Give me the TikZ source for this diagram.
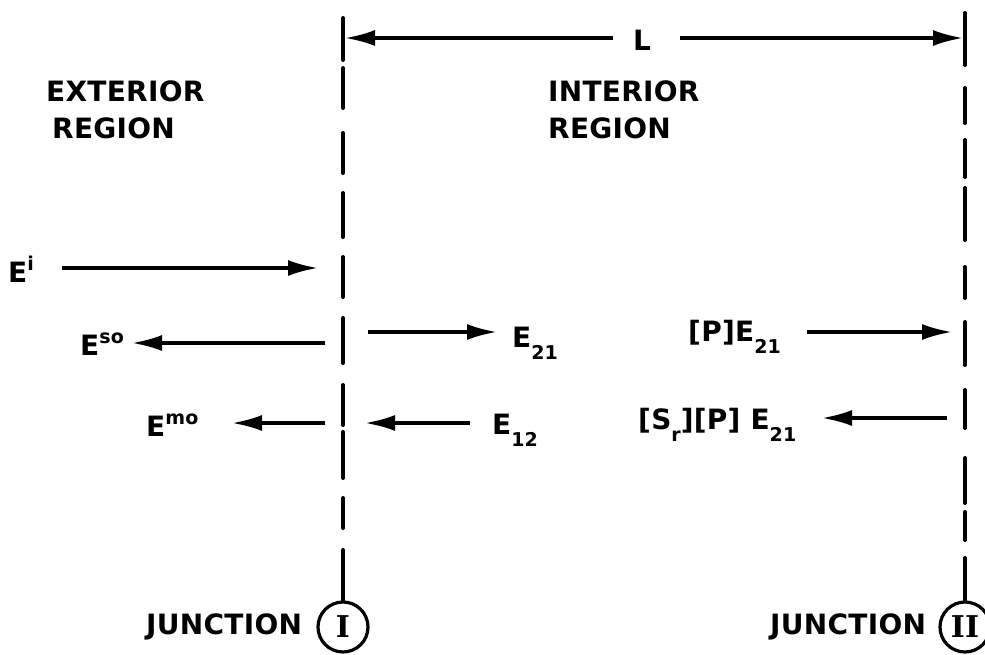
\documentclass[tikz,border=0pt]{standalone}
\usepackage{fontspec}
\usetikzlibrary{arrows.meta}
\newfontfamily\lab[LetterSpace=1]{DejaVu Sans}
\newfontfamily\romfont{DejaVu Serif}
\newcommand\labsz{\fontsize{28}{28}\selectfont}
\newcommand\upx[1]{\raisebox{0.42em}{\fontsize{19}{19}\selectfont #1}}
\newcommand\dnx[1]{\raisebox{-0.45em}{\fontsize{19}{19}\selectfont #1}}
\tikzset{
  lbl/.style={font=\lab\bfseries\labsz, inner sep=0pt, anchor=base west},
  arr/.style={line width=3.2pt, -{Latex[length=30pt,width=16pt]}},
  dsh/.style={line width=4pt, line cap=round},
  junc/.style={circle, draw, line width=3.2pt, minimum size=50pt, inner sep=0pt,
    font=\romfont\bfseries\fontsize{30}{30}\selectfont},
}
\begin{document}
\begin{tikzpicture}[x=1pt,y=-1pt]
\useasboundingbox (0,0) rectangle (985,654);
% junction circles
\node[junc] (c1) at (343,627) {I};
\node[junc] (c2) at (965,627) {II};
% dashed boundaries
\foreach \a/\b in {18/60,68/108,133/173,193/237,257/297,318/363,385/425,432/478,498/528}
  \draw[dsh] (343,\a) -- (343,\b);
\coordinate (l1) at (343,550);
\draw[dsh] (l1) -- (c1.north);
\foreach \a/\b in {13/65,88/123,140/177,188/240,267/298,322/365,390/428,458/503,512/540}
  \draw[dsh] (965,\a) -- (965,\b);
\coordinate (r1) at (965,558);
\draw[dsh] (r1) -- (c2.north);
% dimension L
\node[lbl, anchor=base] (L) at (642,50) {L};
\coordinate (dl) at (345,38);
\coordinate (dr) at (963,38);
\coordinate (la) at (613,38);
\coordinate (lb) at (680,38);
\draw[arr] (la) -- (dl);
\draw[arr] (lb) -- (dr);
% region labels
\node[lbl] (ext1) at (46,101) {EXTERIOR};
\node[lbl] (ext2) at (52,138) {REGION};
\node[lbl] (int1) at (548,101) {INTERIOR};
\node[lbl] (int2) at (548,138) {REGION};
% exterior fields
\node[lbl] (ei) at (8,282) {E\upx{i}};
\coordinate (ei1) at (62,268);
\coordinate (ei2) at (318,268);
\draw[arr] (ei1) -- (ei2);
\node[lbl] (eso) at (80,355) {E\upx{so}};
\coordinate (eso1) at (325,343);
\coordinate (eso2) at (132,343);
\draw[arr] (eso1) -- (eso2);
\node[lbl] (emo) at (146,436) {E\upx{mo}};
\coordinate (emo1) at (325,423);
\coordinate (emo2) at (232,423);
\draw[arr] (emo1) -- (emo2);
% interior fields
\coordinate (e21a) at (368,332);
\coordinate (e21b) at (497,332);
\draw[arr] (e21a) -- (e21b);
\node[lbl] (e21) at (512,347) {E\dnx{21}};
\coordinate (e12a) at (470,423);
\coordinate (e12b) at (365,423);
\draw[arr] (e12a) -- (e12b);
\node[lbl] (e12) at (492,434) {E\dnx{12}};
\node[lbl] (pe) at (688,341) {[P]E\dnx{21}};
\coordinate (pea) at (807,332);
\coordinate (peb) at (952,332);
\draw[arr] (pea) -- (peb);
\node[lbl] (spe) at (638,429) {[S\dnx{r}][P] E\dnx{21}};
\coordinate (spea) at (947,418);
\coordinate (speb) at (822,418);
\draw[arr] (spea) -- (speb);
% junction labels
\node[lbl] (j1) at (146,634) {JUNCTION};
\node[lbl] (j2) at (770,634) {JUNCTION};
\end{tikzpicture}
\end{document}
